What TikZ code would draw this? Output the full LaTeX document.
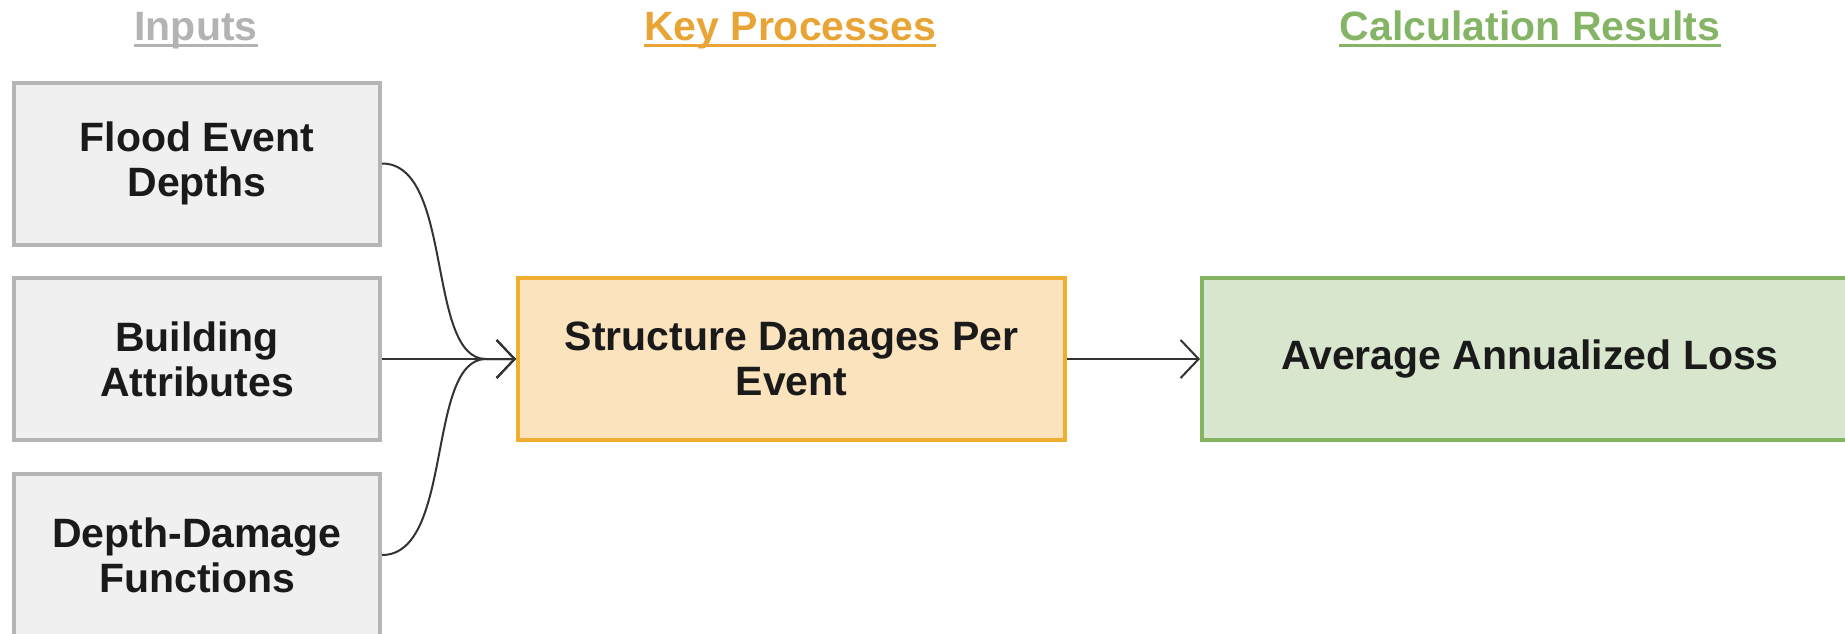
\documentclass[tikz,border=0pt]{standalone}
\usepackage{fontspec}
\setmainfont{Liberation Sans}
\usetikzlibrary{arrows.meta}
\definecolor{txtcol}{HTML}{1A1A1A}
\definecolor{grayfill}{HTML}{F0F0F0}
\definecolor{grayline}{HTML}{B5B5B5}
\definecolor{orfill}{HTML}{FBE3BD}
\definecolor{orline}{HTML}{EFAE2F}
\definecolor{grfill}{HTML}{D8E6CE}
\definecolor{grline}{HTML}{84B462}
\definecolor{intitle}{HTML}{B3B3B3}
\definecolor{ortitle}{HTML}{E8A536}
\definecolor{grtitle}{HTML}{86B466}
\definecolor{conncol}{HTML}{333333}
\tikzset{
  boxbase/.style={rectangle, line width=2pt, text=txtcol, align=center, inner sep=0pt,
    font=\bfseries\fontsize{20.5pt}{22.5pt}\selectfont, minimum height=81pt},
  inbox/.style={boxbase, draw=grayline, fill=grayfill, minimum width=183pt},
  procbox/.style={boxbase, draw=orline, fill=orfill, minimum width=273.5pt},
  resbox/.style={boxbase, draw=grline, fill=grfill, minimum width=328pt},
  coltitle/.style={anchor=base, inner sep=0pt, font=\bfseries\fontsize{20.5pt}{22.5pt}\selectfont},
  uline/.style={line width=1.5pt},
  conn/.style={draw=conncol, line width=1pt, -{Straight Barb[length=9pt,width=19pt]}}
}
\begin{document}
\begin{tikzpicture}[x=0.5pt,y=-0.5pt]
\clip (0,0) rectangle (1845,633);
\useasboundingbox (0,0) rectangle (1845,633);
% titles
\node[coltitle, text=intitle] (t1) at (196,40) {Inputs};
\node[coltitle, text=ortitle] (t2) at (790,40) {Key Processes};
\node[coltitle, text=grtitle] (t3) at (1530,40) {Calculation Results};
\draw[uline, intitle] ([yshift=-2.5pt]t1.base west) -- ([yshift=-2.5pt]t1.base east);
\draw[uline, ortitle] ([yshift=-2.5pt]t2.base west) -- ([yshift=-2.5pt]t2.base east);
\draw[uline, grtitle] ([yshift=-2.5pt]t3.base west) -- ([yshift=-2.5pt]t3.base east);
% boxes
\node[inbox] (b1) at (197,163.5) {Flood Event\\Depths};
\node[inbox] (b2) at (197,359) {Building\\Attributes};
\node[inbox] (b3) at (197,555) {Depth-Damage\\Functions};
\node[procbox] (o) at (791.5,359) {Structure Damages Per\\Event};
\node[resbox] (g) at (1530,359) {Average Annualized Loss};
% connectors
\coordinate (m) at (486,359);
\draw[conn] (b1.east) .. controls +(72,0) and +(-60,0) .. (m) -- (o.west);
\draw[conn] (b2.east) -- (o.west);
\draw[conn] (b3.east) .. controls +(72,0) and +(-60,0) .. (m) -- (o.west);
\draw[conn] (o.east) -- (g.west);
\end{tikzpicture}
\end{document}
